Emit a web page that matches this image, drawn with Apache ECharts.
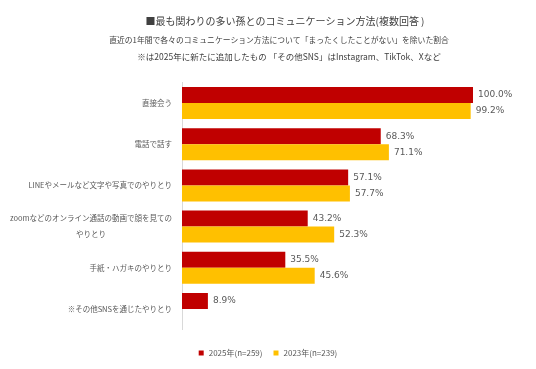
<!DOCTYPE html>
<html><head><meta charset="utf-8">
<script src="https://cdn.jsdelivr.net/npm/echarts@6/dist/echarts.min.js"></script>
<style>html,body{margin:0;padding:0;background:#fff}#c{width:536px;height:369px}</style>
</head><body><div id="c"></div>
<script>
const categories = ['直接会う','電話で話す','LINEやメールなど文字や写真でのやりとり','zoomなどのオンライン通話の動画で顔を見ての\nやりとり','手紙・ハガキのやりとり','※その他SNSを通じたやりとり'];
const seriesNames = ['2025年(n=259)','2023年(n=239)'];
const values2025 = [100.0, 68.3, 57.1, 43.2, 35.5, 8.9];
const values2023 = [99.2, 71.1, 57.7, 52.3, 45.6, null];
const titleText = '■最も関わりの多い孫とのコミュニケーション方法(複数回答 )';
const subText1 = '直近の1年間で各々のコミュニケーション方法について「まったくしたことがない」を除いた割合';
const subText2 = '※は2025年に新たに追加したもの 「その他SNS」はInstagram、TikTok、Xなど';

const chart = echarts.init(document.getElementById('c'), null, {renderer:'canvas'});
const jp = '"Noto Sans CJK JP", "Noto Sans", sans-serif';
const labelCfg = {show:true, position:'right', distance:5, color:'#595959', fontSize:9, fontFamily:'"DejaVu Sans", sans-serif',
  formatter: p => p.value == null ? '' : p.value.toFixed(1) + '%'};
chart.setOption({
  animation:false,
  title:[
    {text:titleText, left:280, top:11, textAlign:'center', textStyle:{fontSize:10, fontWeight:'normal', color:'#404040', fontFamily:jp}},
    {text:subText1, left:274, top:31, textAlign:'center', textStyle:{fontSize:7.8, fontWeight:'normal', color:'#404040', fontFamily:jp}},
    {text:subText2, left:284, top:48, textAlign:'center', textStyle:{fontSize:8.5, fontWeight:'normal', color:'#404040', fontFamily:jp}}
  ],
  legend:{bottom:7, left:'center', itemWidth:5, itemHeight:5, itemGap:11, icon:'rect', itemStyle:{borderWidth:0},
    textStyle:{fontSize:8, color:'#595959', fontFamily:jp}, data:seriesNames},
  grid:{left:182, right:63, top:82.4, bottom:39.4, containLabel:false, outerBoundsMode:'none'},
  xAxis:{type:'value', min:0, max:100, show:false, splitLine:{show:false}},
  yAxis:{type:'category', data:categories, inverse:true,
    axisLine:{show:true, lineStyle:{color:'#d9d9d9', width:1}}, axisTick:{show:false},
    axisLabel:{margin:10, color:'#595959', fontSize:7.5, fontFamily:jp, lineHeight:16,
      formatter: v => v.indexOf('\n')>=0 ? v.split('\n').map(s=>'{c|'+s+'}').join('\n') : v,
      rich:{c:{align:'center', fontSize:7.5, color:'#595959', fontFamily:jp, lineHeight:16}}}},
  series:[
    {name:seriesNames[0], type:'bar', data:values2025, barWidth:16, barGap:'0%', itemStyle:{color:'#C00000'}, label:labelCfg},
    {name:seriesNames[1], type:'bar', data:values2023, barWidth:16, barGap:'0%', itemStyle:{color:'#FFC000'}, label:labelCfg}
  ]
});
</script></body></html>
